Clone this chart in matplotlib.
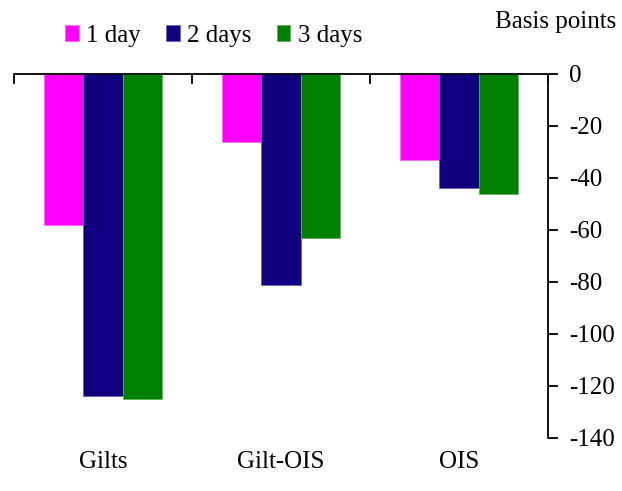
import matplotlib.pyplot as plt
import numpy as np

categories = ["Gilts", "Gilt-OIS", "OIS"]
series = ["1 day", "2 days", "3 days"]
one_day = [-58, -26, -33]
two_days = [-124, -81, -44]
three_days = [-125, -63, -46]
colors = ["#FF00FF", "#10007F", "#008000"]
edges = ["#FF66FF", "#6A60B0", "#60B060"]

plt.rcParams["font.family"] = ["Liberation Serif", "DejaVu Serif"]
plt.rcParams["font.size"] = 18
plt.rcParams["axes.unicode_minus"] = False

fig = plt.figure(figsize=(6.22, 4.91), dpi=100)
ax = fig.add_axes([14 / 622, 1 - 438 / 491, 534 / 622, 364 / 491])

x = np.arange(len(categories))
w = 0.221
for i, (vals, lab) in enumerate(zip([one_day, two_days, three_days], series)):
    ax.bar(x + (i - 1) * w, vals, w, color=colors[i], edgecolor=edges[i],
           linewidth=0.6, label=lab)

ax.set_xlim(-0.5, 2.5)
ax.set_ylim(-140, 0)
ax.set_yticks(np.arange(-140, 1, 20))

ax.spines["left"].set_visible(False)
ax.spines["bottom"].set_visible(False)
ax.spines["top"].set_linewidth(1.3)
ax.spines["right"].set_linewidth(1.3)

ax.yaxis.tick_right()
ax.tick_params(axis="y", direction="out", length=7, width=1.3, pad=8)
ax.xaxis.tick_top()
ax.set_xticks([-0.5, 0.5, 1.5, 2.5])
ax.tick_params(axis="x", direction="in", length=7, width=1.3, labeltop=False)

for xi, c in zip(x, categories):
    ax.text(xi, -0.065, c, transform=ax.get_xaxis_transform(),
            ha="center", va="center")

fig.text(0.99, 1 - 22 / 491, "Basis points", ha="right", va="center")

ax.legend(loc="center left", bbox_to_anchor=(41 / 534, 1 + 38 / 364),
          ncol=3, frameon=False, handlelength=0.55, handleheight=0.6,
          handletextpad=0.3, columnspacing=1.0, borderaxespad=0)

fig.savefig("out.png", dpi=100)
